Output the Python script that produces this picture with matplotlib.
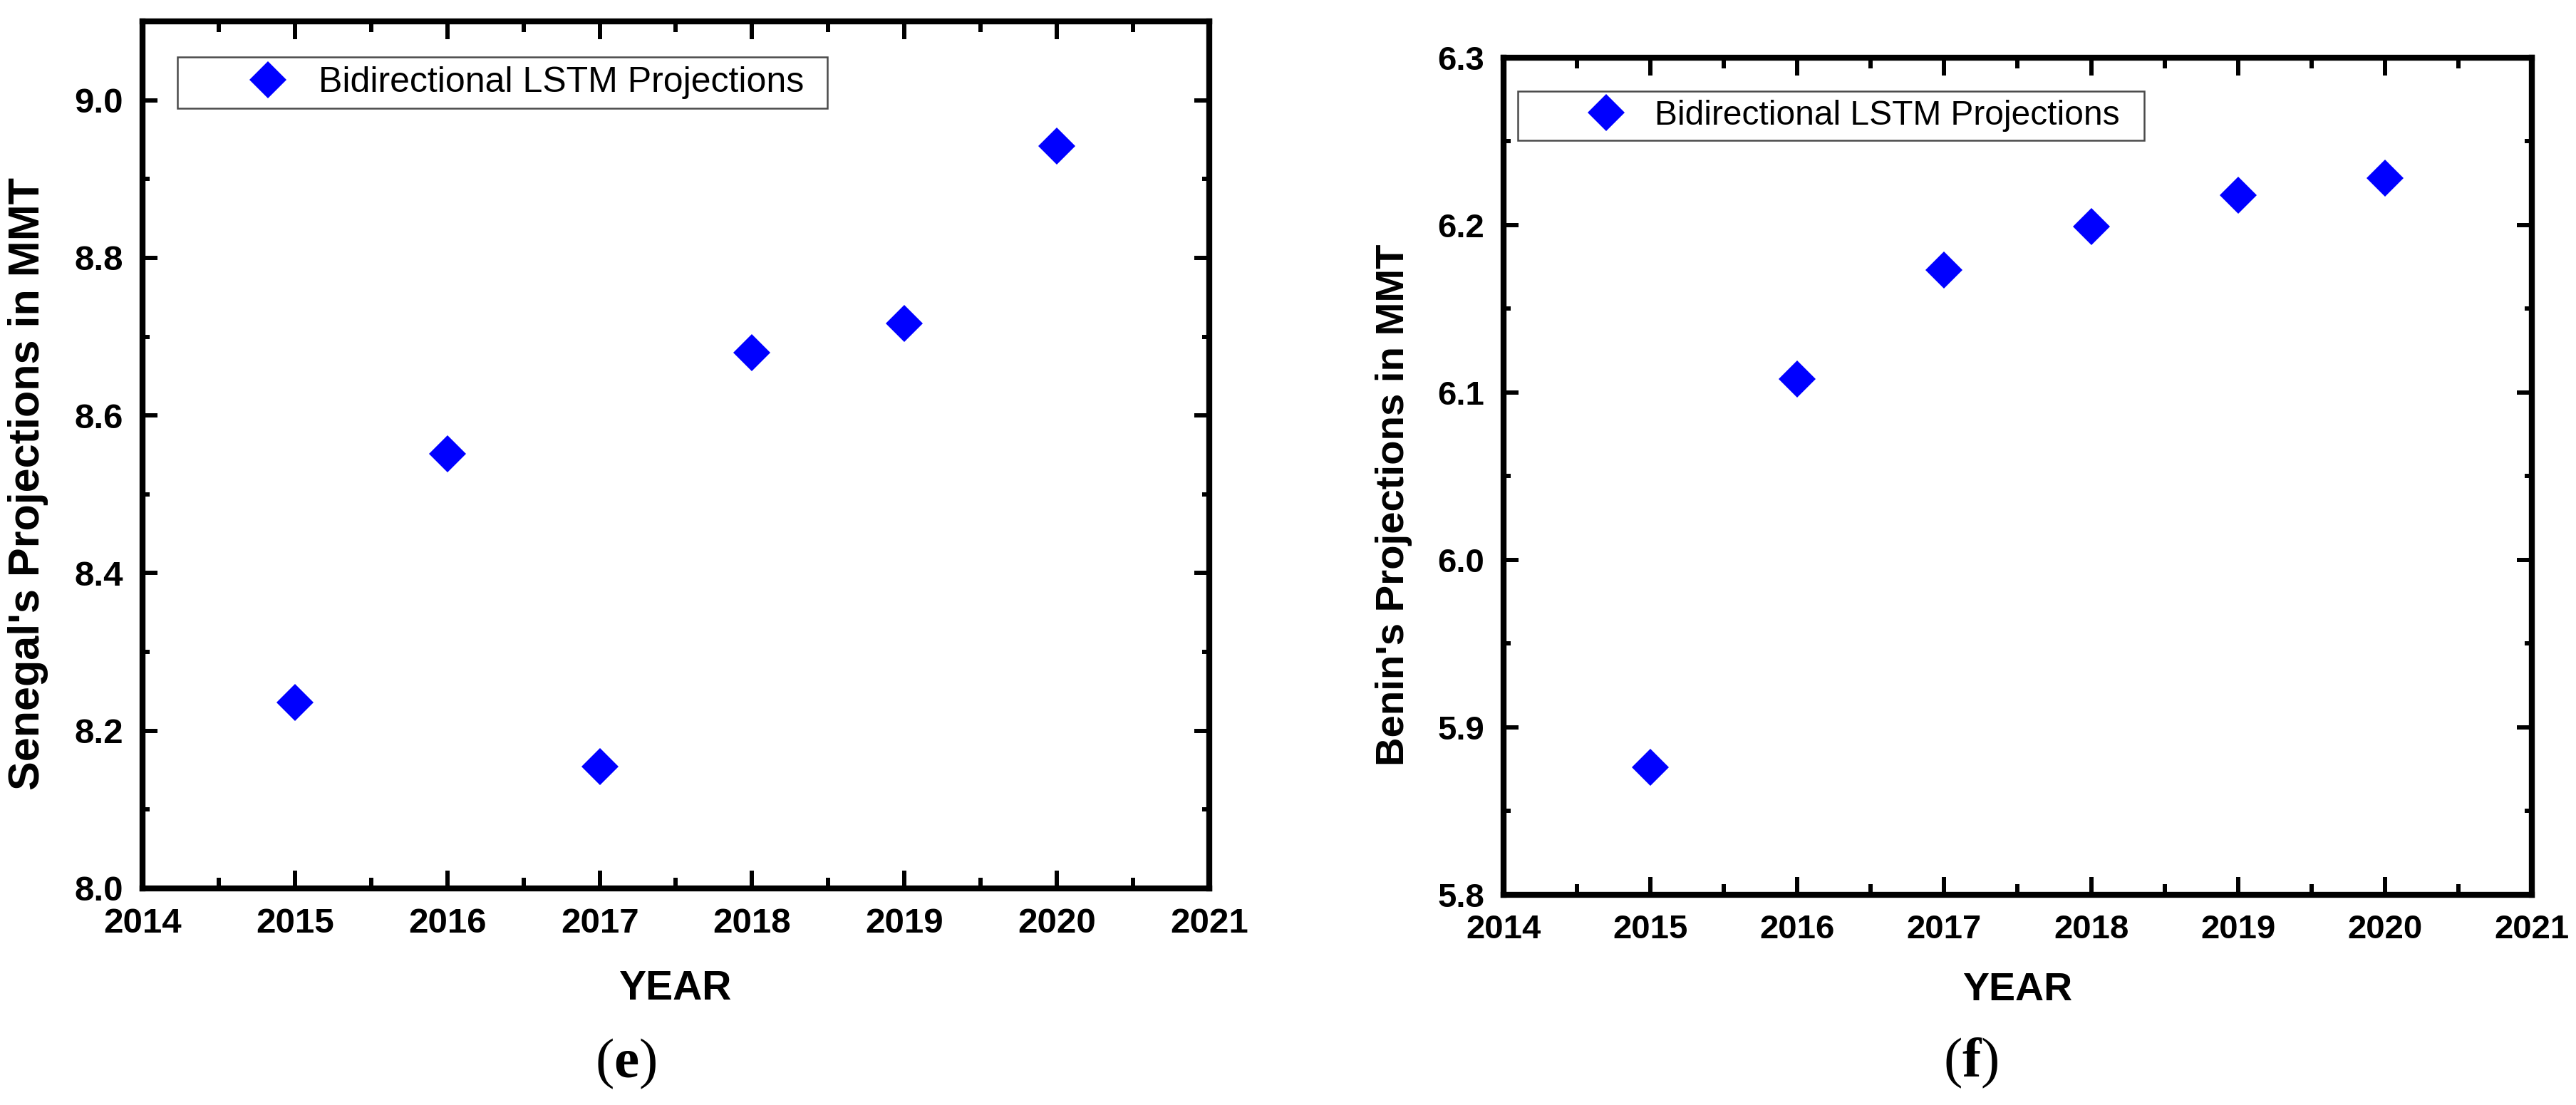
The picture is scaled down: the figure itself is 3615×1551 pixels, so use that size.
import matplotlib
matplotlib.use('Agg')
import matplotlib.pyplot as plt
from matplotlib.ticker import FixedLocator, MultipleLocator, FormatStrFormatter
from matplotlib.patches import Rectangle

# ---------------- data ----------------
years = [2015, 2016, 2017, 2018, 2019, 2020]
senegal_values = [8.236, 8.551, 8.155, 8.680, 8.717, 8.942]
benin_values = [5.876, 6.108, 6.173, 6.199, 6.218, 6.228]

x_ticks = [2014, 2015, 2016, 2017, 2018, 2019, 2020, 2021]
senegal_yticks = [8.0, 8.2, 8.4, 8.6, 8.8, 9.0]
benin_yticks = [5.8, 5.9, 6.0, 6.1, 6.2, 6.3]

legend_label = 'Bidirectional LSTM Projections'
senegal_ylabel = "Senegal's Projections in MMT"
benin_ylabel = "Benin's Projections in MMT"
xlabel = 'YEAR'
panel_tags = ['e', 'f']

# ---------------- style ----------------
plt.rcParams['font.family'] = ['Liberation Sans', 'DejaVu Sans']
plt.rcParams['mathtext.fontset'] = 'custom'
plt.rcParams['mathtext.rm'] = 'Liberation Serif'
plt.rcParams['mathtext.bf'] = 'Liberation Serif:bold'

W, H, DPI = 3615, 1551, 100
fig = plt.figure(figsize=(W / DPI, H / DPI), dpi=DPI)
fig.patch.set_facecolor('white')

BLUE = '#0000FF'


def px_box(l, t, r, b):
    return [l / W, 1 - b / H, (r - l) / W, (b - t) / H]


def style_axes(ax, ylim, yticks, yminor, tick_fs):
    ax.set_xlim(2014, 2021)
    ax.set_ylim(*ylim)
    ax.xaxis.set_major_locator(FixedLocator(x_ticks))
    ax.xaxis.set_minor_locator(MultipleLocator(0.5))
    ax.yaxis.set_major_locator(FixedLocator(yticks))
    ax.yaxis.set_minor_locator(MultipleLocator(yminor))
    ax.xaxis.set_major_formatter(FormatStrFormatter('%d'))
    ax.yaxis.set_major_formatter(FormatStrFormatter('%.1f'))
    for s in ax.spines.values():
        s.set_linewidth(6)
    ax.tick_params(which='both', direction='in', top=True, right=True,
                   width=4.3, labelsize=tick_fs, pad=19.5)
    ax.tick_params(axis='x', which='major', length=18)
    ax.tick_params(axis='x', which='minor', length=10.5)
    ax.tick_params(axis='y', which='major', length=15)
    ax.tick_params(axis='y', which='minor', length=7.5)
    for lab in ax.get_xticklabels() + ax.get_yticklabels():
        lab.set_fontweight('bold')


def add_legend(ax, fs, anchor, rect):
    r = Rectangle(rect[:2], rect[2], rect[3], transform=ax.transAxes,
                  facecolor='white', edgecolor='#4a4a4a', linewidth=1.8,
                  zorder=3)
    ax.add_patch(r)
    leg = ax.legend(loc='center left', bbox_to_anchor=anchor, frameon=False,
                    borderpad=0, borderaxespad=0, handlelength=1.0,
                    handletextpad=0.92, fontsize=fs, numpoints=1)
    leg.set_zorder(4)
    return leg


# ---------------- panel (e) ----------------
ax1 = fig.add_axes(px_box(200, 30, 1697, 1247))
ax1.plot(years, senegal_values, linestyle='none', marker='D', ms=26,
         mew=0, color=BLUE, label=legend_label, zorder=5)
style_axes(ax1, (8.0, 9.1), senegal_yticks, 0.1, 35.5)
ax1.set_xlabel(xlabel, fontsize=41, fontweight='bold')
ax1.xaxis.label.set_va('center')
ax1.xaxis.set_label_coords(0.5, -0.1159)
ax1.set_ylabel(senegal_ylabel, fontsize=44, fontweight='bold')
ax1.yaxis.label.set_va('center')
ax1.yaxis.set_label_coords(-0.1069, 0.467)
add_legend(ax1, 36, (0.1009, 0.9293), (0.0327, 0.8998, 0.6092, 0.0592))

# ---------------- panel (f) ----------------
ax2 = fig.add_axes(px_box(2110, 81, 3553, 1256))
ax2.plot(years, benin_values, linestyle='none', marker='D', ms=26,
         mew=0, color=BLUE, label=legend_label, zorder=5)
style_axes(ax2, (5.8, 6.3), benin_yticks, 0.05, 34)
ax2.set_xlabel(xlabel, fontsize=40, fontweight='bold')
ax2.xaxis.label.set_va('center')
ax2.xaxis.set_label_coords(0.5, -0.114)
ax2.set_ylabel(benin_ylabel, fontsize=40.5, fontweight='bold')
ax2.yaxis.label.set_va('center')
ax2.yaxis.set_label_coords(-0.1067, 0.466)
add_legend(ax2, 34.5, (0.0832, 0.9306), (0.01386, 0.9013, 0.6091, 0.0587))

# ---------------- panel tags ----------------
for tag, (xc, yc) in zip(panel_tags, [(878, 1493), (2766, 1492)]):
    fig.text(xc / W, 1 - yc / H, '($\\mathbf{' + tag + '}$)',
             family='Liberation Serif', fontsize=57, ha='center', va='center')

fig.savefig('out.png', dpi=DPI, facecolor='white')
